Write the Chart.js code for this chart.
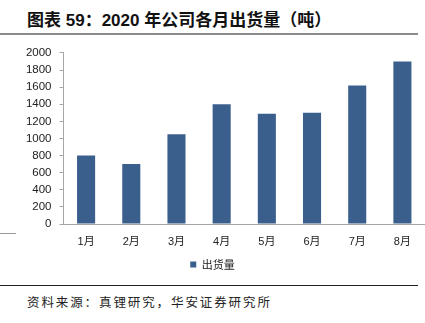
<!DOCTYPE html>
<html>
<head>
<meta charset="utf-8">
<script src="https://cdn.jsdelivr.net/npm/chart.js@4"></script>
<style>
  body { margin: 0; width: 425px; height: 323px; background: #fff; position: relative; overflow: hidden; font-family: "Liberation Sans", "Noto Sans CJK SC", sans-serif; }
  #title { position: absolute; left: 27px; top: 6px; font-size: 17px; font-weight: bold; color: #111; white-space: nowrap; }
  #titleLine { position: absolute; left: 0; top: 33px; width: 418px; height: 2px; background: #8c8c8c; }
  #stub { position: absolute; left: 0; top: 233px; width: 16px; height: 1px; background: #999; }
  #chartBox { position: absolute; left: 0; top: 38px; width: 425px; height: 242px; }
  #footLine { position: absolute; left: 0; top: 285px; width: 418px; height: 1px; background: #222; }
  #source { position: absolute; left: 27px; top: 292px; font-size: 12.5px; letter-spacing: 1.9px; color: #222; white-space: nowrap; font-family: "Noto Sans CJK SC", sans-serif; }
</style>
</head>
<body>
<div id="title">图表 59：2020 年公司各月出货量（吨）</div>
<div id="titleLine"></div>
<div id="stub"></div>
<div id="chartBox"><canvas id="chart"></canvas></div>
<div id="footLine"></div>
<div id="source">资料来源：真锂研究，华安证券研究所</div>
<script>
"use strict";

// data
const months = ["1月", "2月", "3月", "4月", "5月", "6月", "7月", "8月"];
const shipments = [800, 700, 1050, 1400, 1290, 1300, 1620, 1900];
const seriesName = "出货量";

// chart
new Chart(document.getElementById("chart"), {
	type: "bar",
	data: {
		labels: months,
		datasets: [{
			label: seriesName,
			data: shipments,
			backgroundColor: "#3b5f8d",
			borderWidth: 0,
			barPercentage: 0.4,
			categoryPercentage: 1
		}]
	},
	options: {
		responsive: true,
		maintainAspectRatio: false,
		animation: false,
		layout: { padding: { top: 2, right: 0, left: 0, bottom: 0 } },
		plugins: {
			tooltip: { enabled: false },
			legend: {
				position: "bottom",
				labels: {
					usePointStyle: true,
					pointStyle: "rect",
					boxWidth: 6,
					boxHeight: 6,
					padding: 10,
					color: "#222",
					font: { size: 11, family: "'Noto Sans CJK SC', sans-serif" }
				}
			}
		},
		scales: {
			x: {
				grid: { display: false, drawTicks: false },
				border: { color: "#a6a6a6", width: 1 },
				ticks: {
					padding: 11,
					color: "#222",
					font: { size: 11, family: "'Liberation Sans', 'Noto Sans CJK SC', sans-serif" }
				},
				afterFit: s => { s.height = 25; }
			},
			y: {
				min: 0,
				max: 2000,
				grid: { drawOnChartArea: false, tickLength: 4, color: "#a6a6a6" },
				border: { color: "#a6a6a6", width: 1 },
				ticks: {
					stepSize: 200,
					autoSkip: false,
					padding: 8,
					color: "#222",
					font: { size: 11.5, family: "'Liberation Sans', sans-serif" },
					callback: v => String(v)
				},
				afterFit: s => { s.width = 63.5; }
			}
		}
	}
});
</script>
</body>
</html>
